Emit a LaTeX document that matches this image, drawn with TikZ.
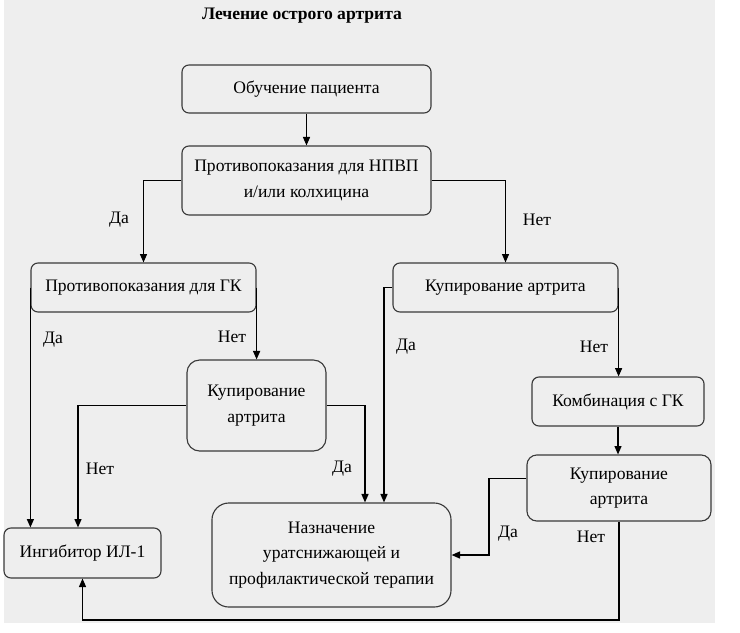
\documentclass[tikz,border=0pt]{standalone}
\usepackage{fontspec}
\setmainfont{Liberation Serif}
\usetikzlibrary{arrows.meta}
\definecolor{fon}{HTML}{EEEEEE}
\definecolor{ramka}{HTML}{3A3A3A}
\tikzset{
  box/.style={draw=ramka, line width=0.8pt, rounded corners=5pt, align=center, inner sep=0pt, font=\fontsize{12.5}{18}\selectfont},
  arr/.style={black, line width=0.9pt, -{Triangle[length=6pt,width=5pt]}},
  lbl/.style={font=\fontsize{12.5}{18}\selectfont}
}
\begin{document}
\begin{tikzpicture}[x=0.025cm, y=-0.025cm]
        \useasboundingbox (0,0) rectangle (740,632);
        \fill[fon] (4,0) rectangle (715,623);
        \node[lbl, font=\fontsize{12.5}{18}\selectfont\bfseries] (title) at (302,16) {Лечение острого артрита};
        % boxes
        \node[box, minimum width=6.225cm, minimum height=1.2cm] (ob) at (306.5,89) {Обучение пациента};
        \node[box, minimum width=6.225cm, minimum height=1.725cm] (nsaid) at (306.5,180.5) {Противопоказания для НПВП\\и/или колхицина};
        \node[box, minimum width=5.625cm, minimum height=1.225cm] (gk) at (143.5,287.5) {Противопоказания для ГК};
        \node[box, minimum width=5.625cm, minimum height=1.225cm] (kupA) at (505.5,287.5) {Купирование артрита};
        \node[box, rounded corners=9pt, minimum width=3.475cm, minimum height=2.275cm] (kupB) at (256.5,405.5) {Купирование\\артрита};
        \node[box, minimum width=4.3cm, minimum height=1.225cm] (komb) at (618,401.5) {Комбинация с ГК};
        \node[box, rounded corners=7pt, minimum width=4.6cm, minimum height=1.65cm] (kupC) at (619,488) {Купирование\\артрита};
        \node[box, rounded corners=12pt, minimum width=5.975cm, minimum height=2.6cm] (naz) at (331.5,555) {Назначение\\уратснижающей и\\профилактической терапии};
        \node[box, minimum width=3.925cm, minimum height=1.25cm] (ingib) at (82.5,553) {Ингибитор ИЛ-1};
        % connectors
        \draw[arr] (ob.south) -- (nsaid.north);
        \draw[arr] (nsaid.west) -| (gk.north);
        \draw[arr] (nsaid.east) -| (kupA.north);
        \draw[arr] (gk.west) -- (gk.west |- ingib.north);
        \draw[arr] (gk.east) -- (gk.east |- kupB.north);
        \draw[arr] (kupA.west) -| (384,0 |- naz.north);
        \draw[arr] (kupA.east) -- (kupA.east |- komb.north);
        \draw[arr] (komb.south) -- (komb.south |- kupC.north);
        \draw[arr] (kupB.west) -| (78,0 |- ingib.north);
        \draw[arr] (kupB.east) -| (365,0 |- naz.north);
        \draw[arr] (kupC.174) -- (489,0 |- kupC.174) |- (naz.east);
        \draw[arr] (kupC.south) -- (kupC.south |- 0,620) -| (ingib.south);
        % labels
        \node[lbl] (da1) at (119,220) {Да};
        \node[lbl] (net1) at (537,220) {Нет};
        \node[lbl] (da2) at (53,340) {Да};
        \node[lbl] (net2) at (232,337) {Нет};
        \node[lbl] (da3) at (406,347) {Да};
        \node[lbl] (net3) at (594,347) {Нет};
        \node[lbl] (net4) at (100,469) {Нет};
        \node[lbl] (da4) at (342,469) {Да};
        \node[lbl] (da5) at (508,534) {Да};
        \node[lbl] (net5) at (591,537) {Нет};
    \end{tikzpicture}
\end{document}
